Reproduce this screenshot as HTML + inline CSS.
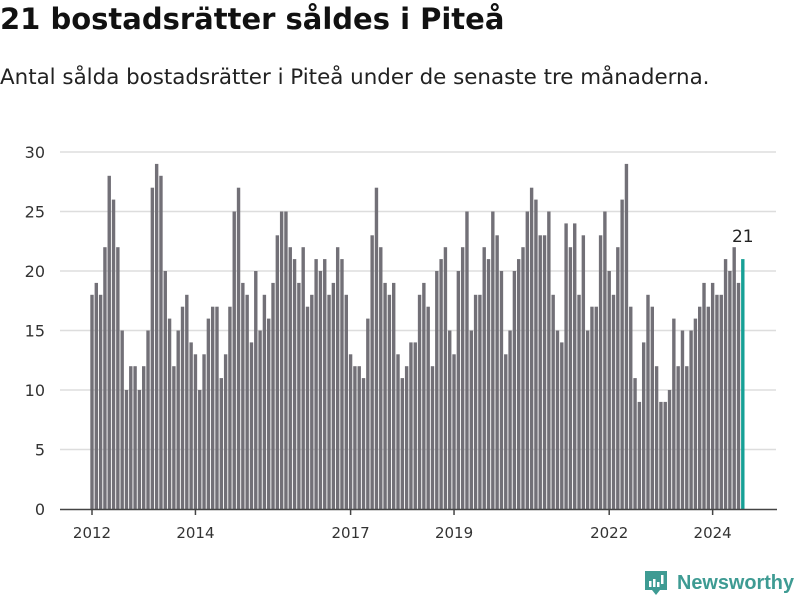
<!DOCTYPE html>
<html><head><meta charset="utf-8">
<style>
body{margin:0;width:800px;height:600px;background:#fff;font-family:"Liberation Sans","DejaVu Sans",sans-serif;overflow:hidden;position:relative}
#title{position:absolute;left:0;top:2px;font-size:29px;font-weight:bold;color:#111;margin:0;font-family:"DejaVu Sans",sans-serif;white-space:nowrap}
#sub{position:absolute;left:0;top:65px;font-size:21.4px;color:#222;font-family:"DejaVu Sans",sans-serif;white-space:nowrap}
svg{position:absolute;left:0;top:0}
</style></head><body>
<h1 id="title">21 bostadsrätter såldes i Piteå</h1>
<div id="sub">Antal sålda bostadsrätter i Piteå under de senaste tre månaderna.</div>
<svg id="chart" width="800" height="600"></svg>
<script>
const values = [18,19,18,22,28,26,22,15,10,12,12,10,12,15,27,29,28,20,16,12,15,17,18,14,13,10,13,16,17,17,11,13,17,25,27,19,18,14,
20,15,18,16,19,23,25,25,22,21,19,22,17,18,21,20,21,18,19,22,21,18,13,12,12,11,16,23,27,22,19,18,19,13,11,12,14,14,18,
19,17,12,20,21,22,15,13,20,22,25,15,18,18,22,21,25,23,20,13,15,20,21,22,25,27,26,23,23,25,18,15,14,24,22,24,18,23,
15,17,17,23,25,20,18,22,26,29,17,11,9,14,18,17,12,9,9,10,16,12,15,12,15,16,17,19,17,19,18,18,21,20,22,19,21];
const yTicks = [0,5,10,15,20,25,30];
const xTickLabels = ["2012","2014","2017","2019","2022","2024"];
const xTickIndex = [0,24,60,84,120,144];

const NS="http://www.w3.org/2000/svg";
const svg=document.getElementById('chart');
const X0=92, STEP=4.31, Y0=509, PPU=11.9;
const x=i=>X0+i*STEP;
const y=v=>Y0-v*PPU;
function mk(t,a){const e=document.createElementNS(NS,t);for(const k in a)e.setAttribute(k,a[k]);svg.appendChild(e);return e;}
yTicks.forEach(v=>{
  if(v>0){const g=mk('line',{x1:60,x2:776,y1:y(v),y2:y(v),stroke:'#dddddd','stroke-width':1.5});
  
  }
  const t=mk('text',{x:45,y:y(v)+6,'text-anchor':'end','font-size':16,fill:'#333','font-family':'DejaVu Sans, sans-serif'});
  t.textContent=v;
  
  
});
values.forEach((v,i)=>{
  const last=i===values.length-1;
  const r=mk('rect',{x:x(i)-1.7,y:y(v),width:3.4,height:v*PPU,fill:last?'#17a096':'#727077'});
  
  
});
const lv=values[values.length-1];
const lt=mk('text',{x:x(values.length-1),y:y(lv)-17,'text-anchor':'middle','font-size':17,fill:'#222','font-family':'DejaVu Sans, sans-serif'});
lt.textContent=lv;


const ax=mk('line',{x1:60,x2:777,y1:Y0+0.5,y2:Y0+0.5,stroke:'#444','stroke-width':1.5});


xTickIndex.forEach((idx,k)=>{
  const tk=mk('line',{x1:x(idx),x2:x(idx),y1:Y0,y2:Y0+6,stroke:'#444','stroke-width':1.5});
  
  
  const t=mk('text',{x:x(idx),y:538,'text-anchor':'middle','font-size':15,fill:'#333','font-family':'DejaVu Sans, sans-serif'});
  t.textContent=xTickLabels[k];
  
  
});
</script>
<svg width="800" height="600" style="position:absolute;left:0;top:0">
<path d="M645 571 h22 v19 h-7 l-4 5 l-4 -5 h-7 z" fill="#3e9b93"/>
<rect x="649" y="581" width="2.5" height="6" fill="#fff"/><rect x="653" y="579" width="2.5" height="8" fill="#fff"/><rect x="657" y="582" width="2.5" height="5" fill="#fff"/><rect x="661" y="575" width="2.5" height="9" fill="#fff"/>
<text x="677" y="589" font-size="20" font-weight="bold" fill="#3e9b93" font-family="Liberation Sans, sans-serif" textLength="117" lengthAdjust="spacingAndGlyphs">Newsworthy</text>
</svg>
</body></html>
